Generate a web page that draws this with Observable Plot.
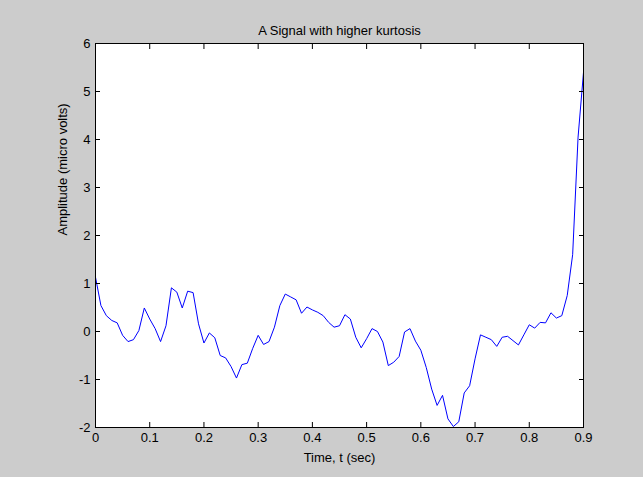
<!DOCTYPE html>
<html>
<head>
<meta charset="utf-8">
<script src="https://cdn.jsdelivr.net/npm/d3@7"></script>
<script src="https://cdn.jsdelivr.net/npm/@observablehq/plot@0.6"></script>
<style>
  html, body { margin: 0; padding: 0; background: #cccccc; }
  #chart svg { display: block; background: transparent; }
</style>
</head>
<body>
<div id="chart"></div>
<script>
const title = "A Signal with higher kurtosis";
const xLabel = "Time, t (sec)";
const yLabel = "Amplitude (micro volts)";
const xTicks = [0, 0.1, 0.2, 0.3, 0.4, 0.5, 0.6, 0.7, 0.8, 0.9];
const yTicks = [-2, -1, 0, 1, 2, 3, 4, 5, 6];

const times = [
  0.00, 0.01, 0.02, 0.03, 0.04, 0.05, 0.06, 0.07, 0.08, 0.09,
  0.10, 0.11, 0.12, 0.13, 0.14, 0.15, 0.16, 0.17, 0.18, 0.19,
  0.20, 0.21, 0.22, 0.23, 0.24, 0.25, 0.26, 0.27, 0.28, 0.29,
  0.30, 0.31, 0.32, 0.33, 0.34, 0.35, 0.36, 0.37, 0.38, 0.39,
  0.40, 0.41, 0.42, 0.43, 0.44, 0.45, 0.46, 0.47, 0.48, 0.49,
  0.50, 0.51, 0.52, 0.53, 0.54, 0.55, 0.56, 0.57, 0.58, 0.59,
  0.60, 0.61, 0.62, 0.63, 0.64, 0.65, 0.66, 0.67, 0.68, 0.69,
  0.70, 0.71, 0.72, 0.73, 0.74, 0.75, 0.76, 0.77, 0.78, 0.79,
  0.80, 0.81, 0.82, 0.83, 0.84, 0.85, 0.86, 0.87, 0.88, 0.89,
  0.90
];
const amplitude = [
  1.13, 0.54, 0.33, 0.23, 0.18, -0.08, -0.21, -0.17, 0.02, 0.49,
  0.26, 0.06, -0.21, 0.12, 0.91, 0.82, 0.49, 0.84, 0.81, 0.16,
  -0.24, -0.03, -0.13, -0.50, -0.55, -0.73, -0.97, -0.69, -0.66, -0.35,
  -0.08, -0.27, -0.21, 0.09, 0.54, 0.78, 0.72, 0.66, 0.38, 0.51,
  0.45, 0.40, 0.33, 0.19, 0.09, 0.12, 0.35, 0.26, -0.12, -0.34,
  -0.15, 0.06, 0.00, -0.22, -0.71, -0.64, -0.52, -0.01, 0.06, -0.20,
  -0.39, -0.75, -1.20, -1.54, -1.33, -1.82, -1.98, -1.88, -1.28, -1.13,
  -0.57, -0.07, -0.12, -0.17, -0.31, -0.12, -0.10, -0.19, -0.28, -0.07,
  0.14, 0.07, 0.19, 0.18, 0.39, 0.28, 0.33, 0.75, 1.60, 4.05,
  5.40
];

const data = times.map((t, i) => ({t, v: amplitude[i]}));
const fmt = d => String(+d.toFixed(1));
const font = "'Liberation Sans', Arial, Helvetica, sans-serif";

const chart = Plot.plot({
  width: 643,
  height: 477,
  marginLeft: 95,
  marginRight: 60,
  marginTop: 43,
  marginBottom: 50,
  style: {fontFamily: font, fontSize: "13px", color: "#000", background: "transparent"},
  x: {domain: [0, 0.9], ticks: xTicks, tickFormat: fmt},
  y: {domain: [-2, 6], ticks: yTicks, tickFormat: fmt},
  marks: [
    Plot.frame({fill: "white", stroke: "none"}),
    Plot.line(data, {x: "t", y: "v", stroke: "#0000ff", strokeWidth: 1}),
    Plot.axisX({anchor: "bottom", ticks: xTicks, tickFormat: fmt, tickSize: -5, tickPadding: 10, label: null, fontSize: 13}),
    Plot.axisX({anchor: "top", ticks: xTicks, tickFormat: () => "", tickSize: -5, tickPadding: 5, label: null}),
    Plot.axisY({anchor: "left", ticks: yTicks, tickFormat: fmt, tickSize: -5, tickPadding: 10, label: null, fontSize: 13}),
    Plot.axisY({anchor: "right", ticks: yTicks, tickFormat: () => "", tickSize: -5, tickPadding: 5, label: null}),
    Plot.frame({stroke: "black", strokeWidth: 1}),
    Plot.text([title], {frameAnchor: "top", dy: -18, text: d => d, fontSize: 13, fill: "black"}),
    Plot.text([xLabel], {frameAnchor: "bottom", dy: 34, text: d => d, fontSize: 13, fill: "black"}),
    Plot.text([yLabel], {frameAnchor: "left", dx: -33, rotate: -90, text: d => d, fontSize: 13, fill: "black"})
  ]
});
document.getElementById("chart").appendChild(chart);
</script>
</body>
</html>
